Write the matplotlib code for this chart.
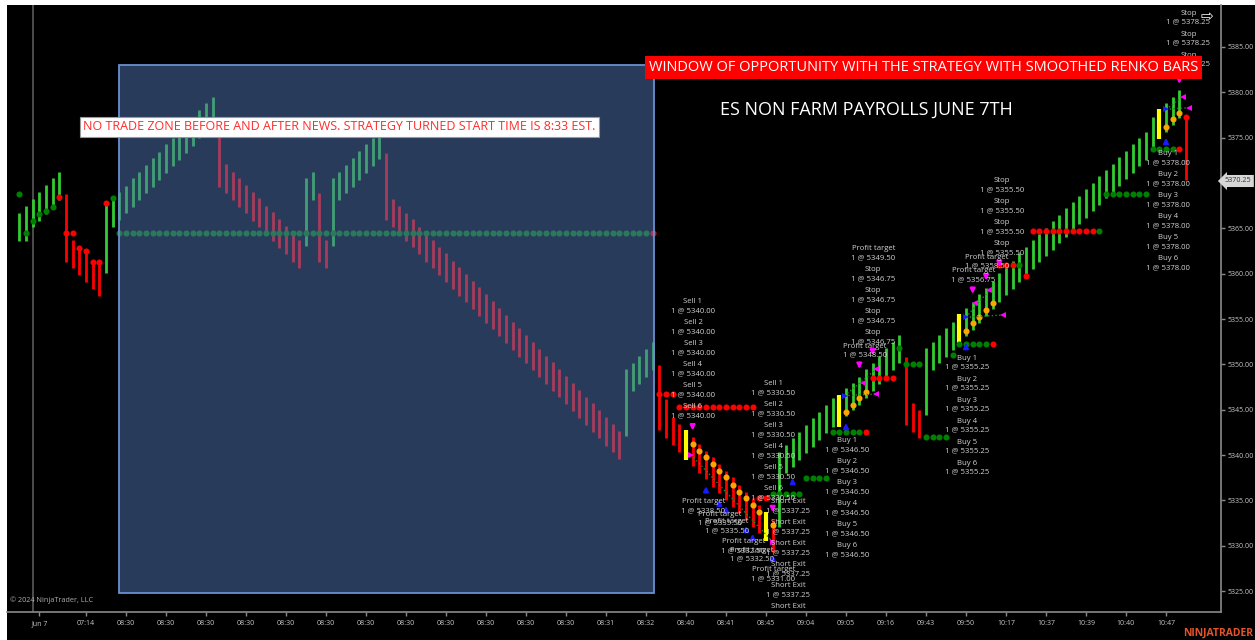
import matplotlib
matplotlib.use("Agg")
import matplotlib.pyplot as plt
from matplotlib.patches import Rectangle

plt.rcParams['font.family'] = ['Open Sans', 'DejaVu Sans']

W, H = 1255, 640

# ==================== Smoothed renko bars ====================
BAR_HIGH = [
    5366.73, 5367.46, 5368.27, 5369.01, 5369.75, 5370.52, 5371.25, 5368.75, 5363.71, 5362.97,
    5362.28, 5361.51, 5361.51, 5367.83, 5368.35, 5368.97, 5369.70, 5370.52, 5371.25, 5371.99,
    5372.72, 5373.45, 5374.27, 5375.00, 5375.74, 5376.47, 5377.20, 5378.05, 5378.79, 5379.52,
    5376.40, 5372.06, 5371.25, 5370.52, 5369.78, 5368.97, 5368.31, 5367.50, 5366.77, 5366.03,
    5365.29, 5364.45, 5363.71, 5370.52, 5371.25, 5368.86, 5363.71, 5370.52, 5371.25, 5371.99,
    5372.72, 5373.53, 5374.27, 5375.00, 5375.74, 5373.28, 5368.24, 5367.46, 5366.73, 5366.00,
    5365.18, 5364.45, 5363.71, 5362.97, 5362.25, 5361.43, 5360.70, 5359.96, 5359.23, 5358.50,
    5357.76, 5356.95, 5356.21, 5355.44, 5354.70, 5353.98, 5353.24, 5352.43, 5351.69, 5350.95,
    5350.23, 5349.45, 5348.71, 5347.98, 5347.17, 5346.43, 5345.70, 5344.96, 5344.16, 5343.42,
    5342.68, 5349.45, 5350.18, 5350.95, 5351.69, 5352.46, 5349.93, 5346.14, 5344.23, 5343.42,
    5342.76, 5342.02, 5341.22, 5340.48, 5339.75, 5339.01, 5338.27, 5337.54, 5336.69, 5335.95,
    5335.23, 5334.49, 5333.75, 5332.83, 5340.37, 5341.10, 5341.84, 5342.57, 5343.31, 5344.05,
    5344.78, 5345.52, 5346.26, 5346.62, 5347.39, 5347.98, 5348.64, 5349.45, 5350.18, 5350.92,
    5351.77, 5352.50, 5353.24, 5350.78, 5345.77, 5344.96, 5351.77, 5352.50, 5353.24, 5353.98,
    5354.70, 5355.55, 5356.18, 5356.91, 5357.76, 5358.39, 5359.23, 5360.04, 5360.70, 5361.43,
    5362.25, 5362.95, 5363.66, 5364.36, 5365.07, 5365.78, 5366.48, 5367.19, 5367.89, 5368.60,
    5369.31, 5370.01, 5370.72, 5371.42, 5372.13, 5372.83, 5373.54, 5374.25, 5374.95, 5375.66,
    5377.31, 5378.13, 5378.79, 5379.52, 5380.26, 5377.31,
]
BAR_LOW = [
    5363.60, 5363.60, 5365.11, 5365.84, 5366.58, 5367.32, 5368.13, 5361.32, 5360.59, 5359.85,
    5359.11, 5358.31, 5357.57, 5360.11, 5365.15, 5365.92, 5366.66, 5367.39, 5368.13, 5368.86,
    5369.59, 5370.33, 5371.14, 5371.88, 5372.54, 5373.34, 5374.08, 5374.93, 5375.66, 5376.40,
    5369.59, 5368.86, 5368.13, 5367.39, 5366.66, 5365.81, 5365.18, 5364.34, 5363.60, 5362.86,
    5362.14, 5361.32, 5360.66, 5363.09, 5368.13, 5361.32, 5360.66, 5363.09, 5368.13, 5368.86,
    5369.59, 5370.33, 5371.14, 5371.88, 5372.65, 5365.92, 5365.18, 5364.45, 5363.64, 5362.91,
    5362.14, 5361.32, 5360.59, 5359.85, 5359.11, 5358.31, 5357.57, 5356.91, 5356.07, 5355.33,
    5354.59, 5353.87, 5353.13, 5352.32, 5351.58, 5350.84, 5350.12, 5349.38, 5348.64, 5347.83,
    5347.09, 5346.37, 5345.63, 5344.89, 5344.05, 5343.31, 5342.57, 5341.84, 5341.03, 5340.30,
    5339.56, 5342.10, 5347.09, 5347.83, 5348.64, 5349.38, 5342.76, 5341.84, 5341.10, 5340.37,
    5339.45, 5338.79, 5337.98, 5337.32, 5336.51, 5335.78, 5335.04, 5334.30, 5333.57, 5332.83,
    5332.09, 5331.37, 5330.55, 5329.34, 5332.09, 5337.98, 5338.71, 5339.45, 5340.19, 5340.92,
    5341.66, 5342.40, 5343.12, 5343.12, 5344.30, 5344.96, 5345.52, 5346.26, 5347.09, 5347.83,
    5348.64, 5349.38, 5350.12, 5343.31, 5342.57, 5341.84, 5344.41, 5349.38, 5350.12, 5350.84,
    5351.58, 5352.32, 5353.13, 5353.79, 5354.59, 5355.33, 5356.07, 5356.91, 5357.65, 5358.28,
    5359.13, 5359.83, 5360.54, 5361.24, 5361.95, 5362.66, 5363.36, 5364.07, 5364.77, 5365.48,
    5366.18, 5366.89, 5367.60, 5368.30, 5369.01, 5369.71, 5370.42, 5371.13, 5371.83, 5372.54,
    5373.64, 5374.82, 5375.66, 5376.40, 5377.14, 5370.33,
]
# g = up brick, r = down brick, y = signal brick
BAR_KIND = ("ggggggg" "rrrrrr" "gg" "ggggggggggggggg" "rrrrrrrrrrrrr" "gg" "rr" "gggggggg"
            "rrrrrrrrrrrrrrrrrrrrrrrrrrrrrrrrrrrr" "ggggg" "rrrr" "y" "rrrrrrrrrrr" "y" "r"
            "ggggggggg" "y" "ggggggggg" "rrr" "ggggg" "y" "ggggggggggggggggggggggggggggg"
            "y" "ggg" "r")

# trailing stop dots: (first bar, last bar, price, colour)
STOP_RUNS = [
    (0, 0, 5368.82, 'g'), (1, 1, 5364.52, 'g'), (2, 2, 5365.81, 'g'), (3, 3, 5366.58, 'g'),
    (4, 4, 5366.95, 'g'), (5, 5, 5367.32, 'g'), (6, 6, 5368.49, 'r'), (7, 8, 5364.52, 'r'),
    (9, 9, 5362.80, 'r'), (10, 10, 5362.50, 'r'), (11, 12, 5361.25, 'r'), (13, 13, 5367.83, 'r'),
    (14, 14, 5368.31, 'g'), (15, 94, 5364.54, 'g'), (95, 95, 5364.54, 'r'),
    (96, 98, 5346.75, 'r'), (99, 110, 5345.25, 'r'), (111, 112, 5335.25, 'r'),
    (113, 117, 5335.75, 'g'), (118, 121, 5337.50, 'g'), (122, 126, 5342.50, 'g'),
    (127, 127, 5342.50, 'r'), (128, 131, 5348.50, 'r'), (132, 132, 5351.75, 'g'),
    (133, 135, 5350.00, 'g'), (136, 139, 5342.00, 'g'), (140, 140, 5351.00, 'g'),
    (141, 145, 5352.25, 'g'), (146, 146, 5352.25, 'r'), (147, 149, 5361.00, 'r'),
    (150, 150, 5361.00, 'g'), (151, 151, 5359.75, 'r'), (152, 161, 5364.75, 'r'),
    (162, 162, 5364.75, 'g'), (163, 169, 5368.75, 'g'), (170, 173, 5373.75, 'g'),
    (174, 174, 5373.75, 'r'), (175, 175, 5377.30, 'r'),
]

ORANGE_K = [101, 102, 103, 104, 105, 106, 107, 108, 109, 110, 111, 113,
            124, 125, 126, 127, 142, 143, 144, 145, 146, 172, 173, 174]
ORANGE_P = [5341.22, 5340.48, 5339.75, 5339.01, 5338.27, 5337.54, 5336.69, 5335.95,
            5335.23, 5334.49, 5333.75, 5332.28, 5344.78, 5345.52, 5346.26, 5346.98,
            5353.71, 5354.53, 5355.25, 5355.99, 5356.80, 5376.21, 5377.06, 5377.75]

# ==================== Executions ====================
BUY_ARROW_K = [103, 105, 106, 109, 110, 113, 116, 124, 142, 172]
BUY_ARROW_P = [5336.33, 5334.85, 5334.16, 5331.95, 5331.07, 5328.79, 5337.24, 5343.31, 5352.13, 5374.74]
SELL_ARROW_K = [101, 113, 126, 128, 143, 145, 147, 174, 175]
SELL_ARROW_P = [5342.95, 5333.94, 5349.74, 5351.22, 5358.01, 5359.49, 5360.96, 5381.17, 5381.55]
EXIT_K = [100.8, 113, 126.5, 128.5, 128.5, 143.4, 145.5, 147.5, 174.5, 175.5]
EXIT_P = [5340.00, 5330.44, 5347.98, 5349.45, 5346.73, 5356.80, 5358.20, 5355.44, 5379.52, 5378.31]
EXIT_SIDE = ['>', '>', '<', '<', '<', '<', '<', '<', '<', '<']
ENTRY_K = [123.8, 142, 172]
ENTRY_P = [5346.54, 5355.19, 5378.13]
LINKS = [(100.8, 5340.00, 113, 5330.44), (123.8, 5346.54, 128.5, 5349.45),
         (123.8, 5346.54, 128.5, 5346.73), (142, 5355.19, 145.5, 5358.20),
         (142, 5355.19, 147.5, 5355.44), (172, 5378.13, 175.5, 5378.31),
         (172, 5378.13, 174.5, 5379.52)]

# stacked execution labels: (bar, price of first line, names, value text)
LABEL_STACKS = [
    (101.05, 5356.91, ["Sell 1", "Sell 2", "Sell 3", "Sell 4", "Sell 5", "Sell 6"], "1 @ 5340.00"),
    (113.1, 5347.91, ["Sell 1", "Sell 2", "Sell 3", "Sell 4", "Sell 5", "Sell 6"], "1 @ 5330.50"),
    (115.35, 5334.85, ["Short Exit"] * 6, "1 @ 5337.25"),
    (124.15, 5341.58, ["Buy 1", "Buy 2", "Buy 3", "Buy 4", "Buy 5", "Buy 6"], "1 @ 5346.50"),
    (128.1, 5362.80, ["Profit target"], "1 @ 5349.50"),
    (128.1, 5360.48, ["Stop"] * 4, "1 @ 5346.75"),
    (126.85, 5352.02, ["Profit target"], "1 @ 5348.50"),
    (142.15, 5350.70, ["Buy 1", "Buy 2", "Buy 3", "Buy 4", "Buy 5", "Buy 6"], "1 @ 5355.25"),
    (147.35, 5370.25, ["Stop"] * 4, "1 @ 5355.50"),
    (145.1, 5361.81, ["Profit target"], "1 @ 5358.50"),
    (143.1, 5360.33, ["Profit target"], "1 @ 5356.75"),
    (172.35, 5373.20, ["Buy 1", "Buy 2", "Buy 3", "Buy 4", "Buy 5", "Buy 6"], "1 @ 5378.00"),
    (175.35, 5388.72, ["Stop"] * 3, "1 @ 5378.25"),
    (102.6, 5334.85, ["Profit target"], "1 @ 5338.50"),
    (105.1, 5333.49, ["Profit target"], "1 @ 5335.50"),
    (106.15, 5332.65, ["Profit target"], "1 @ 5335.50"),
    (108.6, 5330.44, ["Profit target"], "1 @ 5332.50"),
    (109.85, 5329.52, ["Profit target"], "1 @ 5332.50"),
    (113.1, 5327.40, ["Profit target"], "1 @ 5331.00"),
]

# ==================== Axis ====================
TICK_K = [3, 10, 16, 22, 28, 34, 40, 46, 52, 58, 64, 70, 76, 82, 88,
          94, 100, 106, 112, 118, 124, 130, 136, 142, 148, 154, 160, 166, 172]
TICK_LABELS = ["Jun 7", "07:14"] + ["08:30"] * 12 + [
    "08:31", "08:32", "08:40", "08:41", "08:45", "09:04", "09:05", "09:16",
    "09:43", "09:50", "10:17", "10:37", "10:39", "10:40", "10:47"]
PRICE_TICKS = [5325, 5330, 5335, 5340, 5345, 5350, 5355, 5360, 5365, 5370, 5375, 5380, 5385]
LAST_PRICE = 5370.25
SESSION_BREAK_K = 2
NO_TRADE_K = (14.95, 95.2)
NO_TRADE_P = (5324.78, 5383.01)

BAR_COLORS = {'g': '#32cd32', 'r': '#ff0000', 'y': '#ffff00'}
DOT_COLORS = {'g': '#008000', 'r': '#ff0000'}
LABEL_GREY = '#d2d2d2'


def fx(px):
    return px / W


def fy(py):
    return 1 - py / H


fig = plt.figure(figsize=(W / 100, H / 100), dpi=100, facecolor='white')
fig.patches.append(Rectangle((fx(7), 0), 1, fy(5), transform=fig.transFigure,
                             facecolor='black', edgecolor='none', zorder=-10))
ax = fig.add_axes([fx(7), fy(612), fx(1221) - fx(7), fy(5) - fy(612)])
ax.set_facecolor('black')
ax.set_xlim(-1.845, 180.25)
ax.set_ylim(5322.69, 5389.63)

# session break
ax.axvline(SESSION_BREAK_K, color='#5a5a5a', lw=1.2, zorder=1)

# bars
xs = list(range(len(BAR_HIGH)))
ax.vlines(xs, BAR_LOW, BAR_HIGH,
          colors=[BAR_COLORS[c] for c in BAR_KIND],
          linewidths=[3.0 if c == 'y' else 2.0 for c in BAR_KIND], zorder=2)

# trailing stop dots
for k0, k1, price, col in STOP_RUNS:
    ks = list(range(k0, k1 + 1))
    ax.plot(ks, [price] * len(ks), 'o', color=DOT_COLORS[col], ms=4.4, mew=0, zorder=3)
ax.plot(ORANGE_K, ORANGE_P, 'o', color='#ffa500', ms=4.4, mew=0, zorder=3)

# executions
for k0, p0, k1, p1 in LINKS:
    ax.plot([k0, k1], [p0, p1], ':', color='#1f8a1f', lw=1.0, zorder=3)
for k, p in zip(BUY_ARROW_K, BUY_ARROW_P):
    ax.annotate('', xy=(k, p + 0.55), xytext=(k, p - 0.75),
                arrowprops=dict(arrowstyle='-|>', color='#1a1aff', lw=1.6, mutation_scale=7),
                zorder=4)
for k, p in zip(SELL_ARROW_K, SELL_ARROW_P):
    ax.annotate('', xy=(k, p - 0.55), xytext=(k, p + 0.75),
                arrowprops=dict(arrowstyle='-|>', color='#ff00ff', lw=1.6, mutation_scale=7),
                zorder=4)
for k, p, m in zip(EXIT_K, EXIT_P, EXIT_SIDE):
    ax.plot(k, p, m, color='#ff00ff', ms=4.5, mew=0, zorder=4)
ax.plot(ENTRY_K, ENTRY_P, '>', color='#1a1aff', ms=4, mew=0, zorder=4)

# execution labels
for k, p, names, value in LABEL_STACKS:
    for i, name in enumerate(names):
        ax.annotate(name, (k, p), xytext=(0, -i * 21 * 0.72), textcoords='offset points',
                    ha='center', va='center', fontsize=5.6, color=LABEL_GREY, zorder=5,
                    annotation_clip=False, clip_on=True)
        ax.annotate(value, (k, p), xytext=(0, -(i * 21 + 9) * 0.72), textcoords='offset points',
                    ha='center', va='center', fontsize=5.6, color=LABEL_GREY, zorder=5,
                    annotation_clip=False, clip_on=True)

# no-trade zone overlay
ax.add_patch(Rectangle((NO_TRADE_K[0], NO_TRADE_P[0]), NO_TRADE_K[1] - NO_TRADE_K[0],
                       NO_TRADE_P[1] - NO_TRADE_P[0], facecolor='#5274b4', alpha=0.51,
                       edgecolor='none', zorder=6))
ax.add_patch(Rectangle((NO_TRADE_K[0], NO_TRADE_P[0]), NO_TRADE_K[1] - NO_TRADE_K[0],
                       NO_TRADE_P[1] - NO_TRADE_P[0], facecolor='none',
                       edgecolor='#6a8fd0', lw=1.3, zorder=6))

# axes styling
for side in ('top', 'left'):
    ax.spines[side].set_visible(False)
for side in ('right', 'bottom'):
    ax.spines[side].set_color('#8a8a8a')
    ax.spines[side].set_linewidth(1.2)
ax.yaxis.tick_right()
ax.set_yticks(PRICE_TICKS)
ax.set_yticklabels([f"{v:.2f}" for v in PRICE_TICKS])
ax.set_xticks(TICK_K)
ax.set_xticklabels(TICK_LABELS)
ax.tick_params(axis='both', colors='#8a8a8a', labelcolor='#c8c8c8', labelsize=5.0, length=3, width=1)
ax.tick_params(axis='y', pad=2)
ax.tick_params(axis='x', pad=3)

# last price tag
fig.text(fx(1238), fy(181), f"{LAST_PRICE:.2f}", ha='center', va='center', fontsize=5.2,
         color='#333333', bbox=dict(boxstyle='larrow,pad=0.35', facecolor='#d6d6d6', edgecolor='none'))

# annotations
fig.text(fx(339.5), fy(127), "NO TRADE ZONE BEFORE AND AFTER NEWS. STRATEGY TURNED START TIME IS 8:33 EST.",
         ha='center', va='center', fontsize=9, color='#ff2a2a', zorder=10,
         bbox=dict(boxstyle='square,pad=0.25', facecolor='white', edgecolor='#9a9a9a', lw=0.8))
fig.text(fx(923.5), fy(67.5), "WINDOW OF OPPORTUNITY WITH THE STRATEGY WITH SMOOTHED RENKO BARS",
         ha='center', va='center', fontsize=10.5, color='white', zorder=10,
         bbox=dict(boxstyle='square,pad=0.25', facecolor='#ff0000', edgecolor='none'))
fig.text(fx(866), fy(110), "ES NON FARM PAYROLLS JUNE 7TH", ha='center', va='center',
         fontsize=13, color='white', zorder=10)
fig.text(fx(10), fy(600), "© 2024 NinjaTrader, LLC", ha='left', va='center', fontsize=5.2, color='#b0b0b0')
fig.text(fx(1253), fy(633), "NINJATRADER", ha='right', va='center', fontsize=7.5,
         fontweight='bold', color='#e5532b')
fig.text(fx(1207), fy(17), "\u21e8", ha='center', va='center', fontsize=11, color='white',
         family=['DejaVu Sans'])

fig.savefig("out.png", dpi=100, facecolor=fig.get_facecolor())
